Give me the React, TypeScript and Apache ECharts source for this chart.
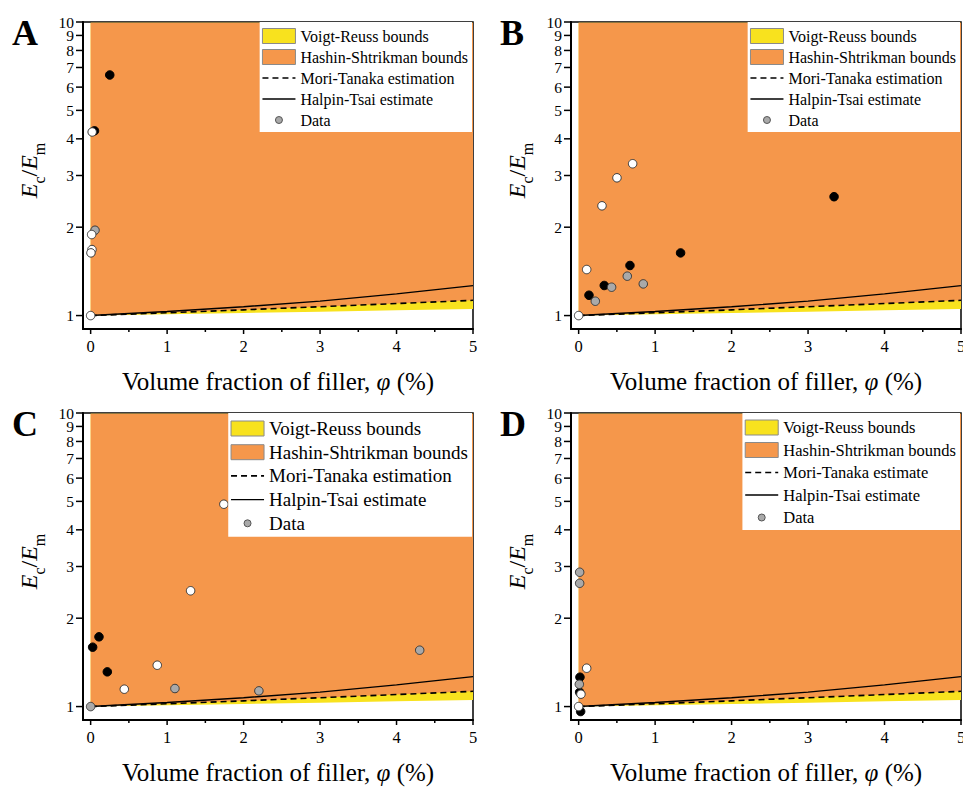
import React, { useEffect, useRef } from 'react';
import * as echarts from 'echarts';

// ---- model curves, x = volume fraction (%)
const phiGrid = [0, 1, 2, 3, 4, 5];
const reussLower = [1, 1.01, 1.02, 1.031, 1.042, 1.053];
const hsLower = [1, 1.022, 1.046, 1.072, 1.099, 1.127];
const boundTop = [9.95, 9.95, 9.95, 9.95, 9.95, 9.95];
const moriTanaka = [1, 1.022, 1.046, 1.072, 1.099, 1.127];
const halpinTsai = [1, 1.033, 1.072, 1.12, 1.185, 1.265];

// ---- ticks
const yTicks = [1, 2, 3, 4, 5, 6, 7, 8, 9, 10];
const yTickLabels = ['1', '2', '3', '4', '5', '6', '7', '8', '9', '10'];
const xTicks = [0, 1, 2, 3, 4, 5];
const xTickLabels = ['0', '1', '2', '3', '4', '5'];
const xMinorTicks = [0.5, 1.5, 2.5, 3.5, 4.5];

// ---- data points [phi %, Ec/Em]
const aBlack = [[0.25, 6.6], [0.05, 4.26]];
const aGray = [[0.057, 1.953]];
const aWhite = [[0.02, 4.22], [0.013, 1.888], [0.017, 1.678], [0.004, 1.635], [0, 1]];

const bBlack = [[0.135, 1.173], [0.335, 1.266], [0.671, 1.481], [1.333, 1.635], [3.34, 2.54]];
const bGray = [[0.218, 1.119], [0.431, 1.249], [0.636, 1.362], [0.845, 1.282]];
const bWhite = [[0, 1], [0.105, 1.435], [0.305, 2.365], [0.501, 2.946], [0.706, 3.29]];

const cBlack = [[0.026, 1.593], [0.109, 1.728], [0.218, 1.313]];
const cGray = [[0, 1], [1.102, 1.152], [2.2, 1.131], [4.303, 1.556]];
const cWhite = [[0.44, 1.146], [0.871, 1.383], [1.307, 2.48], [1.742, 4.89]];

const dBlack = [[0.017, 1.259], [0.013, 1.119], [0.026, 0.962]];
const dGray = [[0.013, 2.868], [0.013, 2.63], [0.009, 1.191]];
const dWhite = [[0.105, 1.351], [0.03, 1.102], [0, 1]];

const X_MIN = -0.1;
const X_MAX = 5;
const Y_MIN = 0.9;
const Y_MAX = 10;

const ORANGE = '#F5974B';
const YELLOW = '#F8E21E';
const SERIF = 'Liberation Serif';
const DATA_ICON =
  'path://M0 0M33 0M33 15M0 15M13 7.5A3.5 3.5 0 1 1 20 7.5A3.5 3.5 0 1 1 13 7.5Z';
const HIDDEN_SYMBOL = { color: 'rgba(0,0,0,0)', borderColor: 'rgba(0,0,0,0)', borderWidth: 0, opacity: 0 };

const GRID_W = 390;
const GRID_H = 307;

const panels = [
  { label: 'A', left: 83, top: 22, black: aBlack, gray: aGray, white: aWhite, mtName: 'Mori-Tanaka estimation', legendFont: 16, legendGap: 5, legendLine: 15 },
  { label: 'B', left: 571, top: 22, black: bBlack, gray: bGray, white: bWhite, mtName: 'Mori-Tanaka estimation', legendFont: 16, legendGap: 5, legendLine: 15 },
  { label: 'C', left: 83, top: 413, black: cBlack, gray: cGray, white: cWhite, mtName: 'Mori-Tanaka estimation', legendFont: 19, legendGap: 4.7, legendLine: 19 },
  { label: 'D', left: 571, top: 413, black: dBlack, gray: dGray, white: dWhite, mtName: 'Mori-Tanaka estimate', legendFont: 16.5, legendGap: 5.5, legendLine: 15 },
];

function bandSeries(name: string, lower: number[], upper: number[], color: string, idx: number) {
  return {
    type: 'custom',
    name,
    xAxisIndex: idx,
    yAxisIndex: idx,
    clip: true,
    silent: true,
    z: 1,
    itemStyle: { color },
    data: phiGrid.map((x, k) => [x, lower[k], upper[k]]),
    encode: { x: 0, y: [1, 2] },
    renderItem: (params: any, api: any) => {
      if (params.dataIndex !== 0) return null;
      const top = phiGrid.map((x, k) => api.coord([x, upper[k]]));
      const bottom = phiGrid.map((x, k) => api.coord([x, lower[k]])).reverse();
      return {
        type: 'polygon',
        shape: { points: top.concat(bottom) },
        style: { fill: color, stroke: null },
      };
    },
  };
}

function yTickSeries(idx: number) {
  return {
    type: 'custom',
    xAxisIndex: idx,
    yAxisIndex: idx,
    clip: false,
    silent: true,
    z: 5,
    data: yTicks.map((v) => [X_MIN, v]),
    renderItem: (params: any, api: any) => {
      const p = api.coord([api.value(0), api.value(1)]);
      return {
        type: 'group',
        children: [
          { type: 'line', shape: { x1: p[0] - 7, y1: p[1], x2: p[0], y2: p[1] }, style: { stroke: '#000', lineWidth: 1.5 } },
          {
            type: 'text',
            style: {
              text: yTickLabels[params.dataIndex],
              x: p[0] - 9,
              y: p[1],
              align: 'right',
              verticalAlign: 'middle',
              fontFamily: SERIF,
              fontSize: 15.5,
              fill: '#000',
            },
          },
        ],
      };
    },
  };
}

function xTickSeries(idx: number) {
  const items = xTicks.map((v) => [v, Y_MIN, 1]).concat(xMinorTicks.map((v) => [v, Y_MIN, 0]));
  return {
    type: 'custom',
    xAxisIndex: idx,
    yAxisIndex: idx,
    clip: false,
    silent: true,
    z: 5,
    data: items,
    renderItem: (params: any, api: any) => {
      const p = api.coord([api.value(0), api.value(1)]);
      const major = api.value(2) === 1;
      const children: any[] = [
        { type: 'line', shape: { x1: p[0], y1: p[1], x2: p[0], y2: p[1] + (major ? 5 : 3) }, style: { stroke: '#000', lineWidth: 1.5 } },
      ];
      if (major) {
        children.push({
          type: 'text',
          style: {
            text: xTickLabels[params.dataIndex],
            x: p[0],
            y: p[1] + 9,
            align: 'center',
            verticalAlign: 'top',
            fontFamily: SERIF,
            fontSize: 16.5,
            fill: '#000',
          },
        });
      }
      return { type: 'group', children };
    },
  };
}

function scatterData(black: number[][], gray: number[][], white: number[][]) {
  return [
    ...black.map((p) => ({ value: p, itemStyle: { color: '#000', borderColor: '#000' } })),
    ...gray.map((p) => ({ value: p, itemStyle: { color: '#A9A9A9', borderColor: '#3a3a3a' } })),
    ...white.map((p) => ({ value: p, itemStyle: { color: '#FFFFFF', borderColor: '#3a3a3a' } })),
  ];
}

function buildOption() {
  const series: any[] = [];
  panels.forEach((p, i) => {
    series.push(bandSeries('Voigt-Reuss bounds', reussLower, boundTop, YELLOW, i));
    series.push(bandSeries('Hashin-Shtrikman bounds', hsLower, boundTop, ORANGE, i));
    series.push({
      type: 'line',
      name: p.mtName,
      xAxisIndex: i,
      yAxisIndex: i,
      data: phiGrid.map((x, k) => [x, moriTanaka[k]]),
      symbol: 'none',
      smooth: false,
      z: 3,
      lineStyle: { color: '#000', width: 1.6, type: [6, 4] },
      itemStyle: { color: '#000' },
    });
    series.push({
      type: 'line',
      name: 'Halpin-Tsai estimate',
      xAxisIndex: i,
      yAxisIndex: i,
      data: phiGrid.map((x, k) => [x, halpinTsai[k]]),
      symbol: 'none',
      smooth: false,
      z: 3,
      lineStyle: { color: '#000', width: 1.4 },
      itemStyle: { color: '#000' },
    });
    series.push({
      type: 'scatter',
      name: 'Data',
      xAxisIndex: i,
      yAxisIndex: i,
      symbol: 'circle',
      symbolSize: 8.5,
      z: 4,
      itemStyle: { color: '#A9A9A9', borderColor: '#3a3a3a', borderWidth: 1, opacity: 1 },
      data: scatterData(p.black, p.gray, p.white),
    });
    series.push(yTickSeries(i));
    series.push(xTickSeries(i));
  });

  return {
    animation: false,
    backgroundColor: '#ffffff',
    textStyle: { fontFamily: SERIF },
    grid: panels.map((p) => ({
      left: p.left,
      top: p.top,
      width: GRID_W,
      height: GRID_H,
      show: true,
      borderColor: '#000',
      borderWidth: 1.5,
      backgroundColor: 'transparent',
      containLabel: false,
      outerBoundsMode: 'none',
    })),
    xAxis: panels.map((p, i) => ({
      type: 'value',
      gridIndex: i,
      min: X_MIN,
      max: X_MAX,
      axisLine: { show: true, onZero: false, lineStyle: { color: '#000', width: 2 } },
      axisTick: { show: false },
      axisLabel: { show: false },
      splitLine: { show: false },
      name: 'Volume fraction of filler, {i|φ} (%)',
      nameLocation: 'middle',
      nameGap: 40,
      nameTextStyle: {
        fontFamily: SERIF,
        fontSize: 25,
        color: '#000',
        rich: { i: { fontFamily: SERIF, fontSize: 25, fontStyle: 'italic', color: '#000' } },
      },
    })),
    yAxis: panels.map((p, i) => ({
      type: 'log',
      logBase: 10,
      gridIndex: i,
      min: Y_MIN,
      max: Y_MAX,
      axisLine: { show: true, onZero: false, lineStyle: { color: '#000', width: 2 } },
      axisTick: { show: false },
      axisLabel: { show: false },
      splitLine: { show: false },
      minorTick: { show: false },
      name: '{e0|E}{s|c}{n|/}{e|E}{s|m}',
      nameLocation: 'middle',
      nameRotate: 90,
      nameGap: 36,
      nameTextStyle: {
        color: '#000',
        fontFamily: SERIF,
        rich: {
          e0: { fontFamily: SERIF, fontSize: 24, fontStyle: 'italic', color: '#000', lineHeight: 24, padding: [0, 0, 6, 10], verticalAlign: 'bottom' },
          e: { fontFamily: SERIF, fontSize: 24, fontStyle: 'italic', color: '#000', lineHeight: 24, padding: [0, 0, 6, 0], verticalAlign: 'bottom' },
          n: { fontFamily: SERIF, fontSize: 24, color: '#000', lineHeight: 24, padding: [0, 0, 6, 0], verticalAlign: 'bottom' },
          s: { fontFamily: SERIF, fontSize: 16, color: '#000', lineHeight: 16, padding: [14, 0, 0, 0], verticalAlign: 'bottom' },
        },
      },
    })),
    legend: panels.map((p) => ({
      orient: 'vertical',
      top: p.top,
      right: 963 - (p.left + GRID_W) + 1,
      backgroundColor: '#ffffff',
      borderWidth: 0,
      padding: [6, 4, 4, 2],
      itemWidth: 33,
      itemHeight: 15,
      itemGap: p.legendGap,
      selectedMode: false,
      z: 10,
      textStyle: { fontFamily: SERIF, fontSize: p.legendFont, color: '#000', lineHeight: p.legendLine },
      data: [
        { name: 'Voigt-Reuss bounds', icon: 'rect', itemStyle: { color: YELLOW, borderColor: '#8a8a8a', borderWidth: 1 } },
        { name: 'Hashin-Shtrikman bounds', icon: 'rect', itemStyle: { color: ORANGE, borderColor: '#8a8a8a', borderWidth: 1 } },
        { name: p.mtName, itemStyle: HIDDEN_SYMBOL, lineStyle: { color: '#000', width: 1.6, type: [6, 4] } },
        { name: 'Halpin-Tsai estimate', itemStyle: HIDDEN_SYMBOL, lineStyle: { color: '#000', width: 1.4 } },
        { name: 'Data', icon: DATA_ICON, itemStyle: { color: '#A9A9A9', borderColor: '#555', borderWidth: 1 } },
      ],
    })),
    graphic: panels.map((p) => ({
      type: 'text',
      left: p.left - 71,
      top: p.top - 7,
      z: 20,
      style: { text: p.label, fontFamily: SERIF, fontWeight: 'bold', fontSize: 36, fill: '#000' },
    })),
    series,
  };
}

export default function App() {
  const ref = useRef<HTMLDivElement | null>(null);
  useEffect(() => {
    if (!ref.current) return;
    const chart = echarts.init(ref.current, null, { renderer: 'svg' });
    chart.setOption(buildOption() as any);
    return () => {
      chart.dispose();
    };
  }, []);
  return (
    <div
      ref={ref}
      style={{ position: 'fixed', left: 0, top: 0, width: 963, height: 788, background: '#fff' }}
    />
  );
}
